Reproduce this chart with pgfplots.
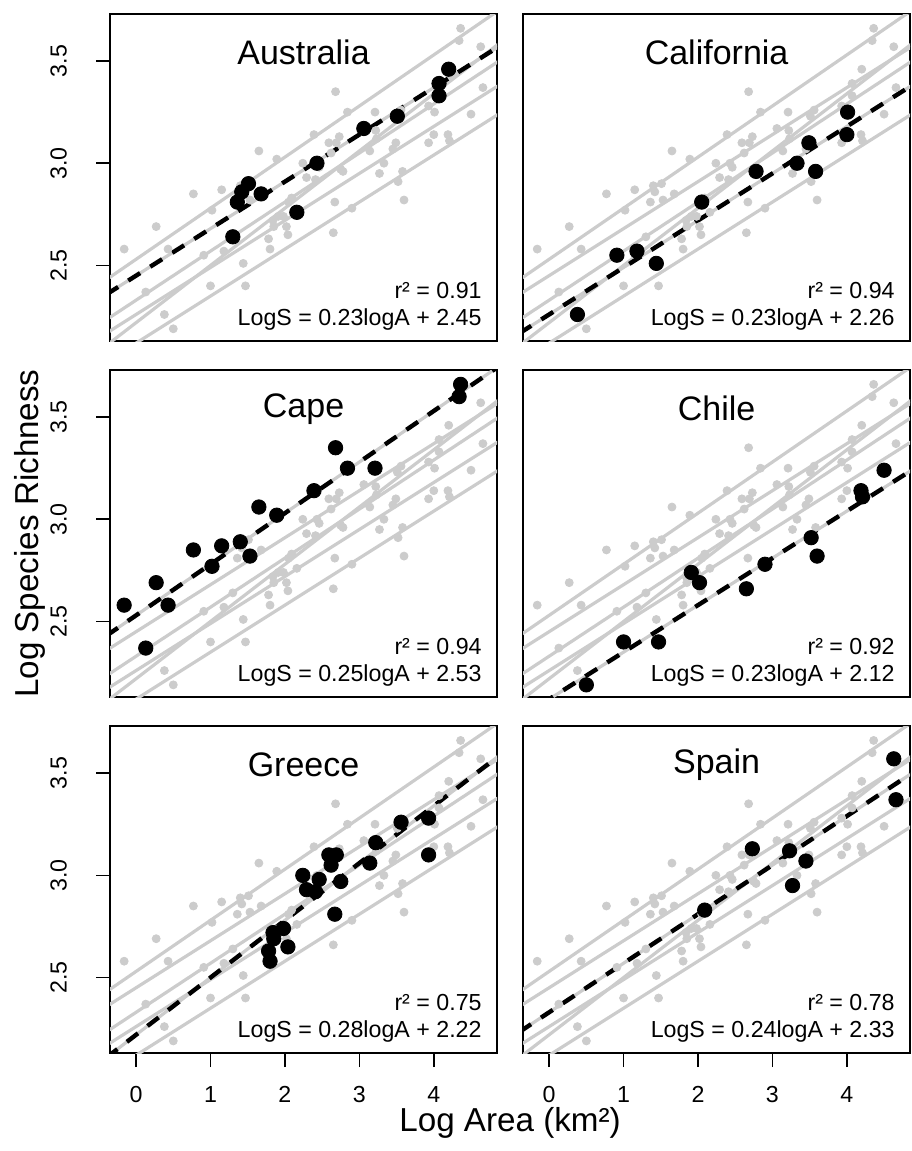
\documentclass[border=0pt]{standalone}
\usepackage{fontspec}
\setmainfont{Liberation Sans}
\usepackage{pgfplots}
\usepackage{pgfplotstable}
\pgfplotsset{compat=1.18}
\usepgfplotslibrary{groupplots}
\usetikzlibrary{calc}

\definecolor{lgrey}{RGB}{204,204,204}

\pgfplotstableread{
x y
4.20 3.46
4.07 3.39
4.07 3.33
3.51 3.23
3.06 3.17
2.43 3.00
1.51 2.90
1.42 2.86
1.68 2.85
1.36 2.81
2.16 2.76
1.30 2.64
}\australia

\pgfplotstableread{
x y
4.01 3.25
4.00 3.14
3.49 3.10
3.33 3.00
3.58 2.96
2.78 2.96
2.05 2.81
0.91 2.55
1.18 2.57
1.44 2.51
0.38 2.26
}\california

\pgfplotstableread{
x y
4.36 3.66
4.34 3.60
2.68 3.35
2.84 3.25
3.21 3.25
2.39 3.14
1.65 3.06
1.89 3.02
0.77 2.85
1.15 2.87
1.40 2.89
1.53 2.82
1.02 2.77
0.27 2.69
0.43 2.58
-0.16 2.58
0.13 2.37
}\cape

\pgfplotstableread{
x y
4.50 3.24
4.19 3.14
4.21 3.11
3.52 2.91
3.60 2.82
2.90 2.78
2.65 2.66
1.91 2.74
2.02 2.69
1.00 2.40
1.47 2.40
0.50 2.19
}\chile

\pgfplotstableread{
x y
3.56 3.26
3.93 3.28
3.93 3.10
3.22 3.16
3.14 3.06
2.59 3.10
2.69 3.10
2.62 3.05
2.75 2.97
2.24 3.00
2.46 2.98
2.29 2.93
2.41 2.92
2.67 2.81
1.98 2.74
1.84 2.72
2.04 2.65
1.85 2.69
1.78 2.63
1.80 2.58
}\greece

\pgfplotstableread{
x y
4.63 3.57
4.66 3.37
2.73 3.13
3.23 3.12
3.45 3.07
3.27 2.95
2.09 2.83
}\spain

% fitted lines, end points at x=-0.4 and x=4.9
\def\lnaus{(-0.4,2.358) (4.9,3.577)}
\def\lncal{(-0.4,2.168) (4.9,3.387)}
\def\lncap{(-0.4,2.430) (4.9,3.755)}
\def\lnchi{(-0.4,2.028) (4.9,3.247)}
\def\lngre{(-0.4,2.108) (4.9,3.592)}
\def\lnspa{(-0.4,2.234) (4.9,3.506)}

% all points and all fits in grey
\newcommand{\greybg}{%
  \addplot[only marks, mark=*, mark size=2pt, lgrey] table {\australia};
  \addplot[only marks, mark=*, mark size=2pt, lgrey] table {\california};
  \addplot[only marks, mark=*, mark size=2pt, lgrey] table {\cape};
  \addplot[only marks, mark=*, mark size=2pt, lgrey] table {\chile};
  \addplot[only marks, mark=*, mark size=2pt, lgrey] table {\greece};
  \addplot[only marks, mark=*, mark size=2pt, lgrey] table {\spain};
  \addplot[lgrey, line width=1.6pt] coordinates {\lnaus};
  \addplot[lgrey, line width=1.6pt] coordinates {\lncal};
  \addplot[lgrey, line width=1.6pt] coordinates {\lncap};
  \addplot[lgrey, line width=1.6pt] coordinates {\lnchi};
  \addplot[lgrey, line width=1.6pt] coordinates {\lngre};
  \addplot[lgrey, line width=1.6pt] coordinates {\lnspa};
}

% #1 title, #2 table, #3 line, #4 r2, #5 equation
\newcommand{\panel}[5]{%
  \greybg
  \addplot[black, line width=2.2pt, dash pattern=on 7pt off 6pt] coordinates {#3};
  \addplot[only marks, mark=*, mark size=3.6pt, black] table {#2};
  \node[inner sep=0pt, font=\fontsize{17}{20}\selectfont] at (rel axis cs:0.5,0.882) {#1};
  \node[inner sep=0pt, anchor=base east, font=\fontsize{11.6}{14}\selectfont] at (rel axis cs:0.961,0.131) {r² = #4};
  \node[inner sep=0pt, anchor=base east, font=\fontsize{11.6}{14}\selectfont] at (rel axis cs:0.961,0.048) {LogS = #5};
}

\begin{document}
\begin{tikzpicture}
\begin{groupplot}[
  group style={group size=2 by 3, horizontal sep=13pt, vertical sep=14.5pt},
  scale only axis, width=193.5pt, height=163.5pt,
  xmin=-0.35, xmax=4.85, ymin=2.13, ymax=3.73,
  axis line style={line width=0.8pt},
  tick align=outside, tick pos=left, major tick length=7pt,
  tick style={black, line width=0.8pt},
  xtick={0,1,2,3,4}, ytick={2.5,3,3.5},
  /pgf/number format/assume math mode=true,
  tick label style={font=\fontsize{11.6}{14}\selectfont},
  y tick label style={rotate=90, anchor=south},
  yticklabel shift=11pt, xticklabel shift=6pt,
  yticklabel style={/pgf/number format/fixed, /pgf/number format/fixed zerofill, /pgf/number format/precision=1},
]
\nextgroupplot[xtick=\empty]
\coordinate (tl) at (rel axis cs:0,1);
\panel{Australia}{\australia}{\lnaus}{0.91}{0.23logA + 2.45}
\nextgroupplot[xtick=\empty, ytick=\empty]
\panel{California}{\california}{\lncal}{0.94}{0.23logA + 2.26}
\nextgroupplot[xtick=\empty]
\coordinate (ml) at (rel axis cs:0,0.5);
\panel{Cape}{\cape}{\lncap}{0.94}{0.25logA + 2.53}
\nextgroupplot[xtick=\empty, ytick=\empty]
\panel{Chile}{\chile}{\lnchi}{0.92}{0.23logA + 2.12}
\nextgroupplot
\coordinate (bl) at (rel axis cs:1,0);
\panel{Greece}{\greece}{\lngre}{0.75}{0.28logA + 2.22}
\nextgroupplot[ytick=\empty]
\coordinate (br) at (rel axis cs:1,0);
\coordinate (bm) at (rel axis cs:0,0);
\panel{Spain}{\spain}{\lnspa}{0.78}{0.24logA + 2.33}
\end{groupplot}
\node[rotate=90, font=\fontsize{16.6}{19}\selectfont] at ($(ml)+(-40pt,0)$) {Log Species Richness};
\node[font=\fontsize{16.6}{19}\selectfont] at ($($(bl)!0.5!(bm)$)+(0,-35pt)$) {Log Area (km²)};
\pgfresetboundingbox
\useasboundingbox ($(tl)+(-55pt,7pt)$) rectangle ($(br)+(0.5pt,-48.9pt)$);
\end{tikzpicture}
\end{document}
